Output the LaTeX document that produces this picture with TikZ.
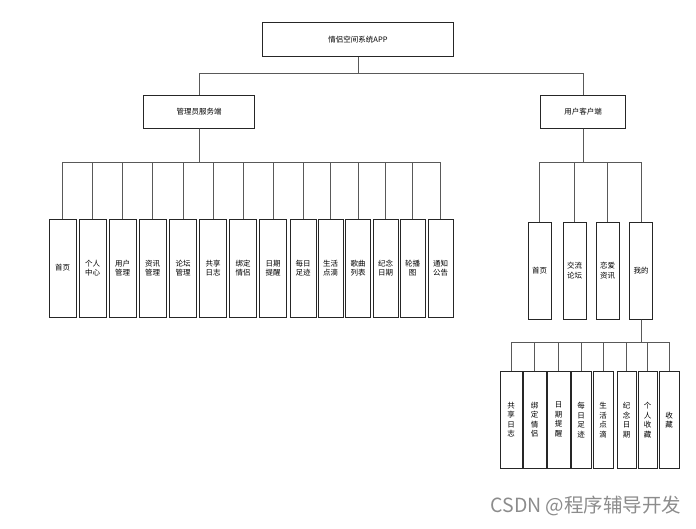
\documentclass[tikz,border=0pt]{standalone}
\usepackage{fontspec}
\newfontfamily\cjk{Noto Sans CJK SC}
\begin{document}
\begin{tikzpicture}[
    x=1pt, y=-1pt,
    box/.style={draw=black!85, line width=1pt, rectangle, inner sep=0pt, align=center, font=\cjk\fontsize{7.5}{9.5}\selectfont},
    leaf/.style={box, minimum width=27pt, minimum height=98pt},
    uleaf/.style={box, minimum width=23pt, minimum height=97pt},
    sleaf/.style={box, minimum width=21pt, minimum height=97pt},
    link/.style={draw=black!65, line width=0.9pt}
]
\useasboundingbox (0,0) rectangle (696,528);

% Ebenen oben
\node[box, minimum width=191pt, minimum height=34pt] (app) at (358,39.5) {情侣空间系统APP};
\node[box, minimum width=111pt, minimum height=33pt] (admin) at (199,111.5) {管理员服务端};
\node[box, minimum width=85pt, minimum height=33pt] (user) at (583,111.5) {用户客户端};

% Verwaltung
\node[leaf] (a1) at (62.5,268) {首页};
\node[leaf] (a2) at (92.5,268) {个人\\中心};
\node[leaf] (a3) at (122.5,268) {用户\\管理};
\node[leaf] (a4) at (152.5,268) {资讯\\管理};
\node[leaf] (a5) at (183,268) {论坛\\管理};
\node[leaf] (a6) at (213,268) {共享\\日志};
\node[leaf] (a7) at (243,268) {绑定\\情侣};
\node[leaf] (a8) at (273,268) {日期\\提醒};
\node[leaf, minimum width=26pt] (a9) at (303,268) {每日\\足迹};
\node[leaf, minimum width=25pt] (a10) at (330.5,268) {生活\\点滴};
\node[leaf, minimum width=25pt] (a11) at (358,268) {歌曲\\列表};
\node[leaf, minimum width=25pt] (a12) at (385.5,268) {纪念\\日期};
\node[leaf, minimum width=25pt] (a13) at (412.5,268) {轮播\\图};
\node[leaf, minimum width=25pt] (a14) at (440.5,268) {通知\\公告};

% Benutzer
\node[uleaf] (u1) at (539.5,270.5) {首页};
\node[uleaf] (u2) at (574.5,270.5) {交流\\论坛};
\node[uleaf] (u3) at (607.5,270.5) {恋爱\\资讯};
\node[uleaf] (u4) at (641,270.5) {我的};

% Mein Bereich
\node[sleaf, minimum width=22pt] (m1) at (511,419.5) {共\\享\\日\\志};
\node[sleaf, minimum width=23pt] (m2) at (534.5,419.5) {绑\\定\\情\\侣};
\node[sleaf, minimum width=23pt] (m3) at (558.5,419.5) {日\\期\\提\\醒};
\node[sleaf, minimum width=20pt] (m4) at (581,420) {每\\日\\足\\迹};
\node[sleaf, minimum width=20pt] (m5) at (603,420) {生\\活\\点\\滴};
\node[sleaf, minimum width=19pt] (m6) at (626.5,420) {纪\\念\\日\\期};
\node[sleaf, minimum width=19pt] (m7) at (647.5,420) {个\\人\\收\\藏};
\node[sleaf, minimum width=20pt] (m8) at (669,420) {收\\藏};

% Verbindungen
\draw[link] (app.south) -- ++(0,16) -| (admin.north);
\draw[link] (app.south) -- ++(0,16) -| (user.north);

\draw[link] (admin.south) -- ++(0,34) -| (a1.north);
\draw[link] (admin.south) -- ++(0,34) -| (a2.north);
\draw[link] (admin.south) -- ++(0,34) -| (a3.north);
\draw[link] (admin.south) -- ++(0,34) -| (a4.north);
\draw[link] (admin.south) -- ++(0,34) -| (a5.north);
\draw[link] (admin.south) -- ++(0,34) -| (a6.north);
\draw[link] (admin.south) -- ++(0,34) -| (a7.north);
\draw[link] (admin.south) -- ++(0,34) -| (a8.north);
\draw[link] (admin.south) -- ++(0,34) -| (a9.north);
\draw[link] (admin.south) -- ++(0,34) -| (a10.north);
\draw[link] (admin.south) -- ++(0,34) -| (a11.north);
\draw[link] (admin.south) -- ++(0,34) -| (a12.north);
\draw[link] (admin.south) -- ++(0,34) -| (a13.north);
\draw[link] (admin.south) -- ++(0,34) -| (a14.north);

\draw[link] (user.south) -- ++(0,34) -| (u1.north);
\draw[link] (user.south) -- ++(0,34) -| (u2.north);
\draw[link] (user.south) -- ++(0,34) -| (u3.north);
\draw[link] (user.south) -- ++(0,34) -| (u4.north);

\draw[link] (u4.south) -- ++(0,23) -| (m1.north);
\draw[link] (u4.south) -- ++(0,23) -| (m2.north);
\draw[link] (u4.south) -- ++(0,23) -| (m3.north);
\draw[link] (u4.south) -- ++(0,23) -| (m4.north);
\draw[link] (u4.south) -- ++(0,23) -| (m5.north);
\draw[link] (u4.south) -- ++(0,23) -| (m6.north);
\draw[link] (u4.south) -- ++(0,23) -| (m7.north);
\draw[link] (u4.south) -- ++(0,23) -| (m8.north);

% Wasserzeichen
\node[font=\cjk\fontsize{19.5}{22}\selectfont, text=black!45] (mark) at (586,506) {CSDN @程序辅导开发};

\end{tikzpicture}
\end{document}
